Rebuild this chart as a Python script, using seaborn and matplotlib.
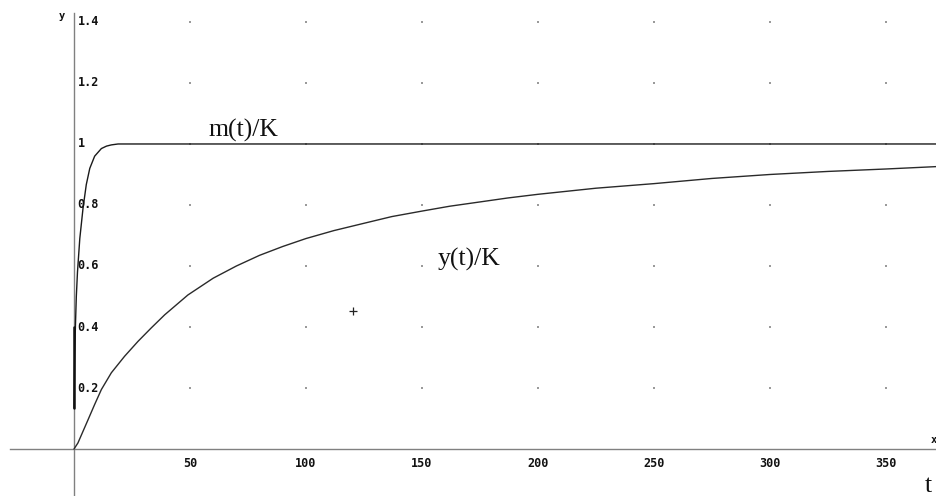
import matplotlib
matplotlib.use("Agg")
import matplotlib.pyplot as plt
import seaborn as sns
import numpy as np
import pandas as pd

# ---- data ----
t_m = [0, 0.3, 0.6, 1.0, 1.5, 2.5, 3.9, 5.3, 6.8, 8.9, 11.8, 14, 16.1, 19, 375]
m_vals = [0.134, 0.30, 0.40, 0.50, 0.58, 0.69, 0.79, 0.867, 0.92, 0.96, 0.985, 0.993, 0.997, 1.0, 1.0]

t_y = [0, 1.7, 6.0, 8.9, 11.8, 16.1, 21.8, 27.6, 33.3, 39.1, 49.1, 60, 70, 80, 90, 100, 112,
       125, 137, 150, 162, 175, 187, 200, 225, 250, 275, 300, 325, 350, 375]
y_vals = [0, 0.02, 0.095, 0.146, 0.195, 0.25, 0.304, 0.353, 0.397, 0.44, 0.505, 0.56, 0.60,
          0.635, 0.664, 0.69, 0.716, 0.74, 0.762, 0.78, 0.796, 0.81, 0.823, 0.835, 0.855, 0.87,
          0.887, 0.90, 0.91, 0.918, 0.927]

x_ticks = [50, 100, 150, 200, 250, 300, 350]
y_ticks = [0.2, 0.4, 0.6, 0.8, 1.0, 1.2, 1.4]
y_tick_labels = ["0.2", "0.4", "0.6", "0.8", "1", "1.2", "1.4"]
marker_pt = (120.3, 0.452)

sns.set_style("white")
plt.rcParams["font.family"] = ["DejaVu Sans Mono", "DejaVu Sans"]

fig = plt.figure(figsize=(9.36, 4.96), dpi=100)
ax = fig.add_axes([0, 0, 1, 1])
ax.set_xlim(-31.9, 371.6)
ax.set_ylim(-0.154, 1.472)

# dotted grid points
gx, gy = np.meshgrid(x_ticks, y_ticks)
ax.scatter(gx.ravel(), gy.ravel(), s=1.2, color="#9a9a9a", marker="s", linewidths=0, zorder=1)

df_m = pd.DataFrame({"t": t_m, "v": m_vals})
df_y = pd.DataFrame({"t": t_y, "v": y_vals})
sns.lineplot(data=df_m, x="t", y="v", ax=ax, color="#1a1a1a", lw=1.0, sort=False, zorder=3)
sns.lineplot(data=df_y, x="t", y="v", ax=ax, color="#2a2a2a", lw=1.0, sort=False, zorder=3)
# thick start segment of m(t)
ax.plot([t_m[0], t_m[0]], [m_vals[0], 0.40], color="#111111", lw=1.8, zorder=3)

# axes through origin
for s in ["top", "right"]:
    ax.spines[s].set_visible(False)
ax.spines["left"].set_position(("data", 0))
ax.spines["bottom"].set_position(("data", 0))
ax.spines["left"].set_color("#808080")
ax.spines["bottom"].set_color("#808080")
ax.spines["left"].set_linewidth(1.0)
ax.spines["bottom"].set_linewidth(1.0)
ax.spines["bottom"].set_bounds(-27.6, 371.6)
ax.spines["left"].set_bounds(-0.154, 1.43)

ax.set_xticks(x_ticks)
ax.set_xticklabels([str(v) for v in x_ticks], fontweight="bold", fontsize=8.5)
ax.set_yticks(y_ticks)
ax.set_yticklabels([])
ax.tick_params(axis="both", direction="inout", length=5, width=0.8, colors="#808080",
               labelcolor="#111111")
ax.tick_params(axis="x", pad=3)
for v, lab in zip(y_ticks, y_tick_labels):
    ax.text(1.6, v, lab, ha="left", va="center", fontsize=8.5, fontweight="bold", color="#111111")

ax.set_xlabel("")
ax.set_ylabel("")

# annotations
ax.text(-5.2, 1.418, "y", ha="center", va="center", fontsize=7.5, fontweight="bold", color="#111111")
ax.text(369.5, 0.03, "x", ha="left", va="center", fontsize=7.5, fontweight="bold", color="#111111")
ax.text(57.8, 1.023, "m(t)/K", family="Liberation Serif", fontsize=18.5, ha="left",
        va="baseline", color="#111111")
ax.text(156.9, 0.603, "y(t)/K", family="Liberation Serif", fontsize=18.5, ha="left",
        va="baseline", color="#111111")
ax.text(366.8, -0.141, "t", family="Liberation Serif", fontsize=18.5, ha="left",
        va="baseline", color="#111111")
ax.scatter([marker_pt[0]], [marker_pt[1]], marker="+", s=30, color="#222222", linewidths=0.9, zorder=4)

fig.savefig("out.png", dpi=100)
